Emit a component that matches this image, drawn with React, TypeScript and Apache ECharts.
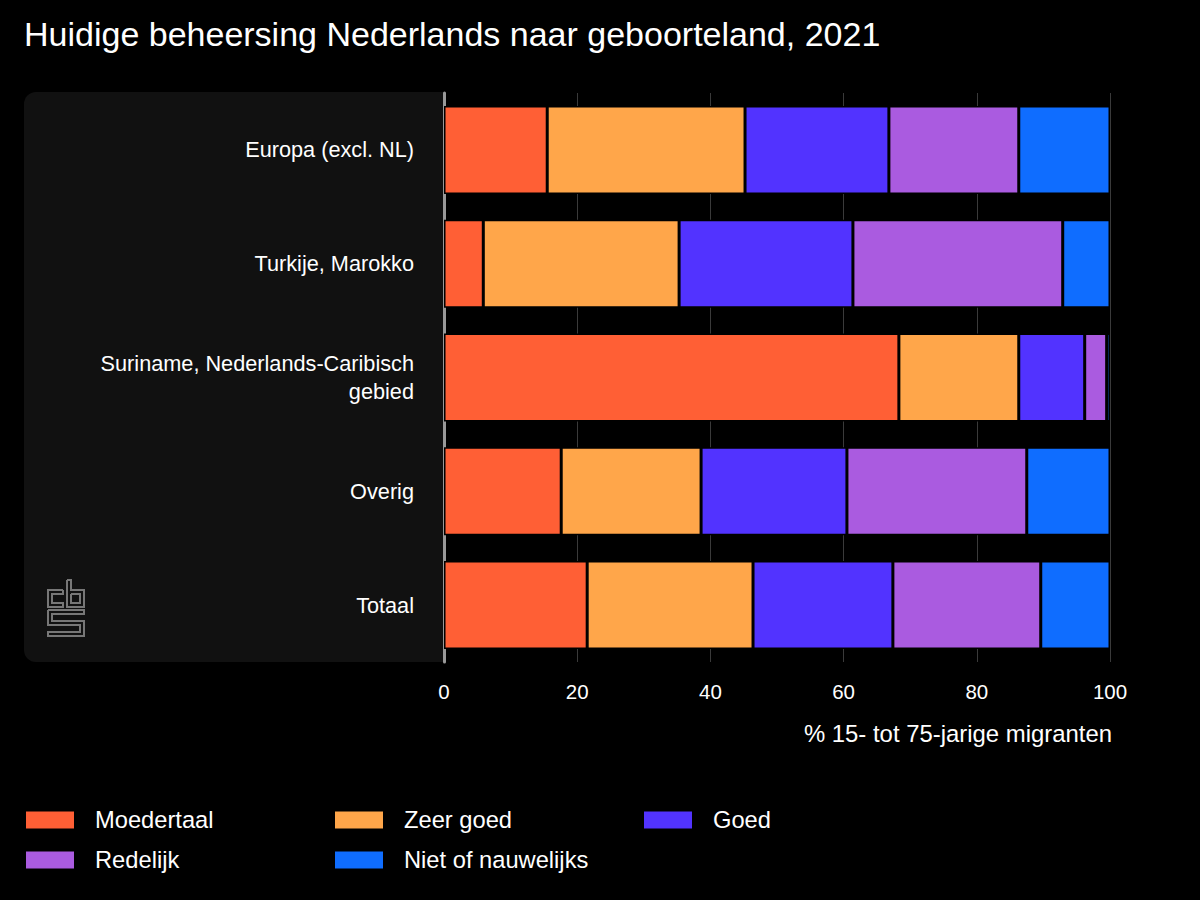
import React, { useEffect, useRef } from "react";
import * as echarts from "echarts";

const categories = ["Europa (excl. NL)", "Turkije, Marokko", "Suriname, Nederlands-Caribisch\ngebied", "Overig", "Totaal"];
const seriesNames = ["Moedertaal", "Zeer goed", "Goed", "Redelijk", "Niet of nauwelijks"];
const moedertaal = [15.5, 5.9, 68.3, 17.6, 21.5];
const zeerGoed = [29.7, 29.4, 18.0, 21.0, 24.9];
const goed = [21.6, 26.1, 9.9, 21.9, 21.0];
const redelijk = [19.5, 31.5, 3.3, 27.0, 22.2];
const nietOfNauwelijks = [13.7, 7.1, 0.5, 12.5, 10.4];
const colors = ["#FF5F35", "#FFA64A", "#5233FF", "#AA5BE0", "#0F6DFF"];
const xTicks = { min: 0, max: 100, interval: 20 };

const FONT = "'Liberation Sans', Arial, sans-serif";

export default function App() {
  const ref = useRef<HTMLDivElement>(null);
  useEffect(() => {
    if (!ref.current) return;
    const chart = echarts.init(ref.current, null, { renderer: "svg" });
    const values = [moedertaal, zeerGoed, goed, redelijk, nietOfNauwelijks];
    const legendPos = [
      [24, 808], [333, 808], [642, 808],
      [24, 848], [333, 848],
    ];
    const logoStyle = { stroke: "#777", lineWidth: 2, fill: "none" };
    chart.setOption({
      animation: false,
      backgroundColor: "#000",
      textStyle: { fontFamily: FONT },
      title: {
        text: "Huidige beheersing Nederlands naar geboorteland, 2021",
        left: 24,
        top: 17,
        padding: 0,
        textStyle: { color: "#fff", fontSize: 34, fontWeight: "normal", fontFamily: FONT },
      },
      legend: seriesNames.map((n, i) => ({
        data: [n],
        left: legendPos[i][0],
        top: legendPos[i][1],
        padding: 0,
        icon: "rect",
        itemWidth: 50,
        itemHeight: 19,
        itemGap: 21,
        selectedMode: false,
        textStyle: { color: "#fff", fontSize: 23.7, fontFamily: FONT, padding: [0, 0, 0, 15] },
      })),
      graphic: [
        {
          type: "rect",
          z: -10,
          silent: true,
          shape: { x: 24, y: 92, width: 420, height: 570, r: [12, 0, 0, 12] },
          style: { fill: "#111" },
        },
        {
          type: "group",
          x: 48,
          y: 580,
          silent: true,
          children: [
            { type: "polyline", shape: { points: [[15, 10], [0, 10], [0, 27], [15, 27], [15, 23], [4, 23], [4, 14], [15, 14], [15, 10]] }, style: logoStyle },
            { type: "polyline", shape: { points: [[19, 0], [19, 27], [36, 27], [36, 10], [23, 10], [23, 0], [19, 0]] }, style: logoStyle },
            { type: "polyline", shape: { points: [[23, 14], [32, 14], [32, 23], [23, 23], [23, 14]] }, style: logoStyle },
            { type: "polyline", shape: { points: [[0, 30], [36, 30], [36, 34], [4, 34], [4, 41], [36, 41], [36, 56], [0, 56], [0, 52], [32, 52], [32, 45], [0, 45], [0, 30]] }, style: logoStyle },
          ],
        },
        {
          type: "text",
          right: 88,
          top: 721,
          style: { text: "% 15- tot 75-jarige migranten", fill: "#fff", fontSize: 23.9, fontFamily: FONT },
        },
      ],
      grid: { left: 444, right: 90, top: 93, bottom: 238, containLabel: false },
      xAxis: {
        type: "value",
        min: xTicks.min,
        max: xTicks.max,
        interval: xTicks.interval,
        axisLine: { show: false },
        axisTick: { show: false },
        axisLabel: { color: "#fff", fontSize: 20.5, margin: 19, fontFamily: FONT },
        splitLine: { show: true, lineStyle: { color: "#3a3a3a", width: 1 } },
      },
      yAxis: {
        type: "category",
        data: categories,
        inverse: true,
        axisLine: { show: true, lineStyle: { color: "#999", width: 3 } },
        axisTick: { show: false },
        axisLabel: { color: "#fff", fontSize: 21.7, margin: 30, lineHeight: 28, align: "right", fontFamily: FONT },
      },
      series: seriesNames.map((n, i) => ({
        name: n,
        type: "bar",
        stack: "total",
        data: values[i],
        barWidth: 88,
        itemStyle: { color: colors[i], borderColor: "#000", borderWidth: 1.5 },
        emphasis: { disabled: true },
      })),
    });
    return () => chart.dispose();
  }, []);
  return <div ref={ref} style={{ position: "absolute", left: 0, top: 0, width: 1200, height: 900 }} />;
}
